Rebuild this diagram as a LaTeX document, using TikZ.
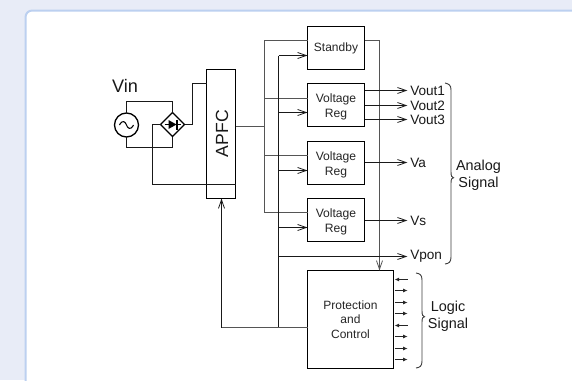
\documentclass[tikz,border=0pt]{standalone}
\usepackage{fontspec}
\setmainfont{Liberation Sans}
\usetikzlibrary{arrows.meta,shapes.geometric,calc}
\definecolor{pagebg}{HTML}{E8ECF7}
\definecolor{cardline}{HTML}{BCD0F0}
\definecolor{wiregray}{HTML}{555555}
\newcommand{\fs}[2]{\fontsize{#1}{#2}\selectfont}
\newcommand{\topgap}{\rule{0pt}{10pt}}
\tikzset{
  block/.style={draw=black,line width=1pt,fill=white,inner sep=0pt,outer sep=0pt,align=center,text=black!85},
  regfont/.style={font=\fs{9.1}{11.25}},
  sigfont/.style={font=\fs{10.2}{12}},
  wire/.style={draw=black!90,line width=0.85pt},
  graywire/.style={draw=wiregray,line width=1.15pt},
  openarrow/.style={-{Straight Barb[length=6.5pt,width=4.5pt,line width=0.6pt]}},
  smallarrow/.style={draw=black!85,line width=0.7pt,-{Latex[length=3.5pt,width=3pt]}},
  siglabel/.style={inner sep=0pt,anchor=west,text=black!90,sigfont},
  grouplabel/.style={inner sep=0pt,align=center,text=black!90,font=\fs{10.8}{12.5}},
  bracket/.style={draw=black!75,line width=0.7pt},
}
\begin{document}
\begin{tikzpicture}[x=0.75pt,y=-0.75pt]
\useasboundingbox (0,0) rectangle (572,380);
\fill[pagebg] (0,0) rectangle (572,380);
\begin{scope}
\clip (0,0) rectangle (572,380);
\draw[cardline,line width=1.5pt,fill=white,rounded corners=5pt] (25.5,10.5) rectangle (600,420);
\end{scope}

\coordinate (busA) at (264.5,126.5);
\coordinate (busAtop) at (264.5,40.5);
\coordinate (busAbot) at (264.5,212.5);
\coordinate (busR) at (379.5,40.5);
\coordinate (busB) at (278.5,55.5);
\coordinate (busBbot) at (278.5,327.5);
\coordinate (fbk) at (221.5,327.5);
\coordinate (rectL) at (152.5,124.5);
\coordinate (rectLb) at (152.5,184.5);
\coordinate (apfcIn) at (235.5,184.5);

\node[block,minimum width=21.75pt,minimum height=96.75pt] (apfc) at (221,134) {};
\node[rotate=90,inner sep=0pt,text=black!90] (apfct) at (222,133.7) {\fs{13.2}{15}APFC};

\node[circle,draw=black,line width=1pt,minimum size=18pt,inner sep=0pt,outer sep=0pt] (ac) at (126.5,125) {};
\node[diamond,draw=black,line width=1pt,minimum size=18pt,inner sep=0pt,outer sep=0pt,fill=white] (br) at (172.5,124.5) {};
\draw[black,line width=0.8pt] ($(ac.center)+(-7,0)$) .. controls ($(ac.center)+(-4,-6)$) and ($(ac.center)+(-1,-3)$) .. (ac.center) .. controls ($(ac.center)+(1,3)$) and ($(ac.center)+(4,6)$) .. ($(ac.center)+(7,0)$);
\fill[black] ($(br.center)+(-4,-4.5)$) -- ($(br.center)+(4,0)$) -- ($(br.center)+(-4,4.5)$) -- cycle;
\draw[black,line width=0.8pt] ($(br.center)+(4.5,-5)$) -- ($(br.center)+(4.5,5)$);
\draw[black,line width=0.8pt] ($(br.center)+(-8,0)$) -- ($(br.center)+(8,0)$);
\node[inner sep=0pt,text=black!90] (vin) at (125,85.5) {\fs{13.6}{15}Vin};

\draw[wire] (ac.north) |- (172.5,101.5) -- (br.north);
\draw[wire] (ac.south) |- (172.5,147.5) -- (br.south);
\draw[wire] (br.east) -| (192.5,83.5) -- (apfc.west |- 0,83.5);
\draw[wire] (br.west) -- (rectL) -- (rectLb) -- (apfcIn);

\node[block,minimum width=42.75pt,minimum height=32.25pt,font=\fs{9}{11}] (sb) at (336,48) {Standby};
\node[block,minimum width=42.75pt,minimum height=32.25pt,regfont] (vr1) at (336,105) {\topgap Voltage\\Reg};
\node[block,minimum width=42.75pt,minimum height=32.25pt,regfont] (vr2) at (336,163) {\topgap Voltage\\Reg};
\node[block,minimum width=42.75pt,minimum height=32.25pt,regfont] (vr3) at (336,220) {\topgap Voltage\\Reg};
\node[block,minimum width=64.5pt,minimum height=73.5pt,font=\fs{9}{10.9}] (pc) at (350.5,319.5) {Protection\\and\\Control};

% power bus
\draw[graywire] (apfc.east |- busA) -- (busA);
\draw[graywire] (busAbot) -- (busAtop) -- (sb.west |- busAtop);
\draw[graywire] (sb.east |- busAtop) -- (busR);
\draw[graywire,openarrow] (busR) -- (busR |- pc.north);
\draw[graywire] (264.5,98.5) -- (vr1.west |- 0,98.5);
\draw[graywire] (264.5,155.5) -- (vr2.west |- 0,155.5);
\draw[graywire] (busAbot) -- (vr3.west |- busAbot);

% control bus
\draw[wire] (busBbot) -- (busB);
\draw[wire,openarrow] (busB) -- (sb.west |- busB);
\draw[wire,openarrow] (278.5,112.5) -- (vr1.west |- 0,112.5);
\draw[wire,openarrow] (278.5,170.5) -- (vr2.west |- 0,170.5);
\draw[wire,openarrow] (278.5,227.5) -- (vr3.west |- 0,227.5);
\draw[graywire] (pc.west |- busBbot) -- (fbk);
\draw[wire,openarrow] (fbk) -- (fbk |- apfc.south);

% outputs
\node[siglabel] (v1) at (410,90.5) {Vout1};
\node[siglabel] (v2) at (410,105.5) {Vout2};
\node[siglabel] (v3) at (410,119.5) {Vout3};
\node[siglabel] (va) at (410,162.5) {Va};
\node[siglabel] (vs) at (410,220.5) {Vs};
\node[siglabel] (vp) at (410,256.5) {Vpon};
\draw[wire,openarrow,shorten >=2pt] (vr1.east |- v1) -- (v1.west);
\draw[wire,openarrow,shorten >=2pt] (vr1.east |- v2) -- (v2.west);
\draw[wire,openarrow,shorten >=2pt] (vr1.east |- v3) -- (v3.west);
\draw[wire,openarrow,shorten >=2pt] (vr2.east |- va) -- (va.west);
\draw[wire,openarrow,shorten >=2pt] (vr3.east |- vs) -- (vs.west);
\draw[wire,openarrow,shorten >=2pt] (278.5,256.5) -- (vp.west);

% logic signals
\foreach \y/\n in {290.5/b,302.5/c,313.5/d,336.5/f,348.5/g,359.5/h}{
  \coordinate (l\n) at (407.7,\y);
  \draw[smallarrow] ($(pc.east |- l\n)+(1,0)$) -- (l\n);
}
\foreach \y/\n in {279.5/a,325.5/e}{
  \coordinate (l\n) at (407.7,\y);
  \draw[smallarrow] (l\n) -- ($(pc.east |- l\n)+(1,0)$);
}

% brackets
\draw[bracket] (445,83) .. controls (449,84) and (451,85) .. (451,90) -- (451,172) .. controls (451,176) and (452,177.7) .. (453.5,177.7) .. controls (452,177.7) and (451,179) .. (451,183) -- (451,257) .. controls (451,262) and (449,263.5) .. (445,264);
\draw[bracket] (416,273) .. controls (420,273.5) and (422,275) .. (422,280) -- (422,311) .. controls (422,315) and (423,316.7) .. (424.5,316.7) .. controls (423,316.7) and (422,318) .. (422,322) -- (422,361) .. controls (422,366) and (420,367.5) .. (416,368);
\node[grouplabel] (ag) at (478.5,175.5) {Analog\\Signal};
\node[grouplabel] (lg) at (448,316.5) {Logic\\Signal};
\end{tikzpicture}
\end{document}
